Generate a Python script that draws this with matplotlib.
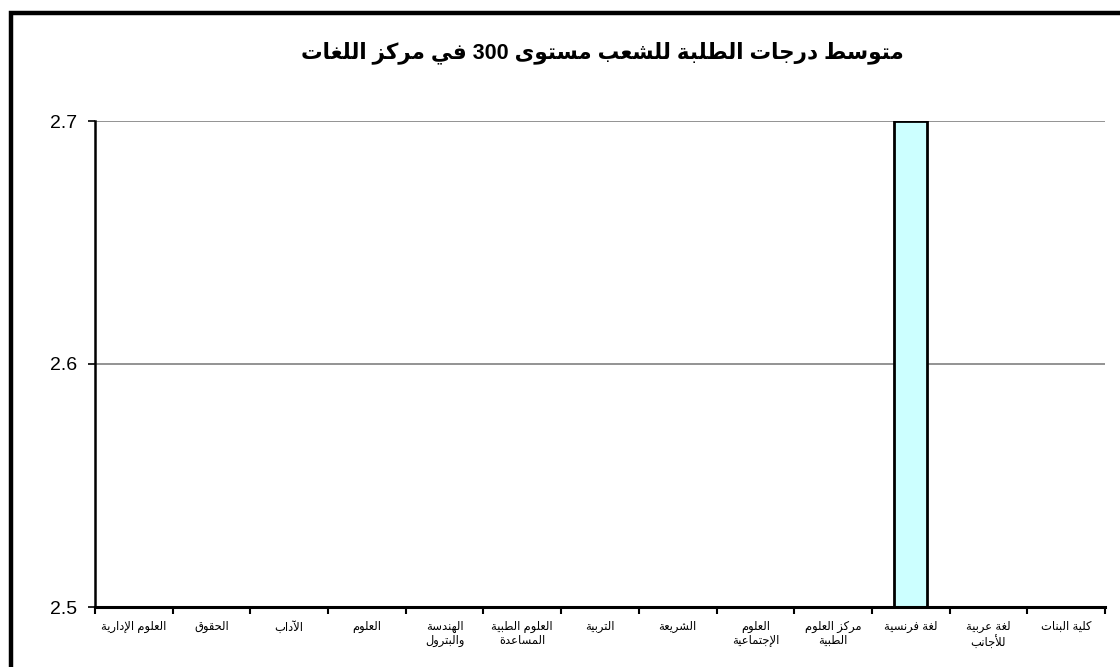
import numpy as np
import matplotlib
matplotlib.use('Agg')
import matplotlib.pyplot as plt
from matplotlib.patches import Rectangle

plt.rcParams['font.family'] = ['Liberation Sans', 'DejaVu Sans']

# data (only the French bar reaches into the visible range 2.5 - 2.7)
title = 'متوسط درجات الطلبة للشعب مستوى 300 في مركز اللغات'
categories = ['العلوم الإدارية', 'الحقوق', 'الآداب', 'العلوم', 'الهندسة\nوالبترول',
              'العلوم الطبية\nالمساعدة', 'التربية', 'الشريعة', 'العلوم\nالإجتماعية',
              'مركز العلوم\nالطبية', 'لغة فرنسية', 'لغة عربية\nللأجانب', 'كلية البنات']
values = [0, 0, 0, 0, 0, 0, 0, 0, 0, 0, 2.7, 0, 0]
y_ticks = [2.5, 2.6, 2.7]

# --- tiny arabic shaper (matplotlib has no RTL / joining support) ---
def _f4(b):
    return (b, b + 1, b + 2, b + 3)

def _f2(b):
    return (b, b + 1)

FORMS = {
    '\u0621': (0xFE80,), '\u0622': _f2(0xFE81), '\u0623': _f2(0xFE83), '\u0624': _f2(0xFE85),
    '\u0625': _f2(0xFE87), '\u0626': _f4(0xFE89), '\u0627': _f2(0xFE8D), '\u0628': _f4(0xFE8F),
    '\u0629': _f2(0xFE93), '\u062A': _f4(0xFE95), '\u062B': _f4(0xFE99), '\u062C': _f4(0xFE9D),
    '\u062D': _f4(0xFEA1), '\u062E': _f4(0xFEA5), '\u062F': _f2(0xFEA9), '\u0630': _f2(0xFEAB),
    '\u0631': _f2(0xFEAD), '\u0632': _f2(0xFEAF), '\u0633': _f4(0xFEB1), '\u0634': _f4(0xFEB5),
    '\u0635': _f4(0xFEB9), '\u0636': _f4(0xFEBD), '\u0637': _f4(0xFEC1), '\u0638': _f4(0xFEC5),
    '\u0639': _f4(0xFEC9), '\u063A': _f4(0xFECD), '\u0641': _f4(0xFED1), '\u0642': _f4(0xFED5),
    '\u0643': _f4(0xFED9), '\u0644': _f4(0xFEDD), '\u0645': _f4(0xFEE1), '\u0646': _f4(0xFEE5),
    '\u0647': _f4(0xFEE9), '\u0648': _f2(0xFEED), '\u0649': _f2(0xFEEF), '\u064A': _f4(0xFEF1),
}
LAMALEF = {'\u0622': _f2(0xFEF5), '\u0623': _f2(0xFEF7), '\u0625': _f2(0xFEF9), '\u0627': _f2(0xFEFB)}

def shape_word(w):
    units = []
    i = 0
    while i < len(w):
        c = w[i]
        if c == '\u0644' and i + 1 < len(w) and w[i + 1] in LAMALEF:
            units.append(LAMALEF[w[i + 1]])
            i += 2
        else:
            units.append(FORMS.get(c, c))
            i += 1
    out = []
    for i, u in enumerate(units):
        if isinstance(u, str):
            out.append(u)
            continue
        prev_j = i > 0 and isinstance(units[i - 1], tuple) and len(units[i - 1]) == 4
        next_j = len(u) == 4 and i + 1 < len(units) and isinstance(units[i + 1], tuple) and len(units[i + 1]) > 1
        if len(u) == 1:
            out.append(chr(u[0]))
        elif len(u) == 2:
            out.append(chr(u[1] if prev_j else u[0]))
        else:
            out.append(chr(u[[[0, 2], [1, 3]][prev_j][next_j]]))
    return ''.join(reversed(out))

def rtl(text):
    lines = []
    for line in text.split('\n'):
        words = line.split(' ')
        lines.append(' '.join(shape_word(w) if any(ch in FORMS for ch in w) else w
                              for w in reversed(words)))
    return '\n'.join(lines)

# --- figure ---
fig = plt.figure(figsize=(11.2, 6.67), dpi=100)
W, H = 1120, 667
ax = fig.add_axes([95 / W, 1 - 607 / H, (1105 - 95) / W, (607 - 121) / H])

# outer chart frame (only left and top edges are inside the picture)
fig.patches.append(Rectangle((11 / W, -0.1), 1.2, 1 - 13 / H + 0.1, transform=fig.transFigure,
                             fill=False, edgecolor='black', linewidth=3.2, zorder=0))

x = np.arange(len(categories))
ax.bar(x, values, width=0.42, color='#CCFFFF', edgecolor='black', linewidth=2, zorder=3)

ax.set_xlim(-0.5, len(categories) - 0.5)
ax.set_ylim(2.5, 2.7)
ax.set_yticks(y_ticks)
ax.set_yticklabels([str(v) for v in y_ticks], fontsize=14)
for v in y_ticks[1:]:
    ax.axhline(v, color='#808080', linewidth=1.2, zorder=1)

ax.set_xticks(x)
ax.set_xticklabels([rtl(c) for c in categories], fontsize=8.3, linespacing=1.25)
ax.set_xticks(np.arange(-0.5, len(categories), 1), minor=True)
ax.tick_params(axis='x', which='major', length=0, pad=10)
ax.tick_params(axis='x', which='minor', length=5, width=1.5, direction='out')
ax.tick_params(axis='y', length=5, width=1.2, direction='out', pad=8)

for s in ['top', 'right']:
    ax.spines[s].set_visible(False)
ax.spines['left'].set_linewidth(1.8)
ax.spines['bottom'].set_linewidth(2.2)
ax.spines['bottom'].set_zorder(4)

fig.text(602 / W, 1 - 53 / H, rtl(title), ha='center', va='center', fontsize=15.5, fontweight='bold')

fig.savefig('out.png', dpi=100)
